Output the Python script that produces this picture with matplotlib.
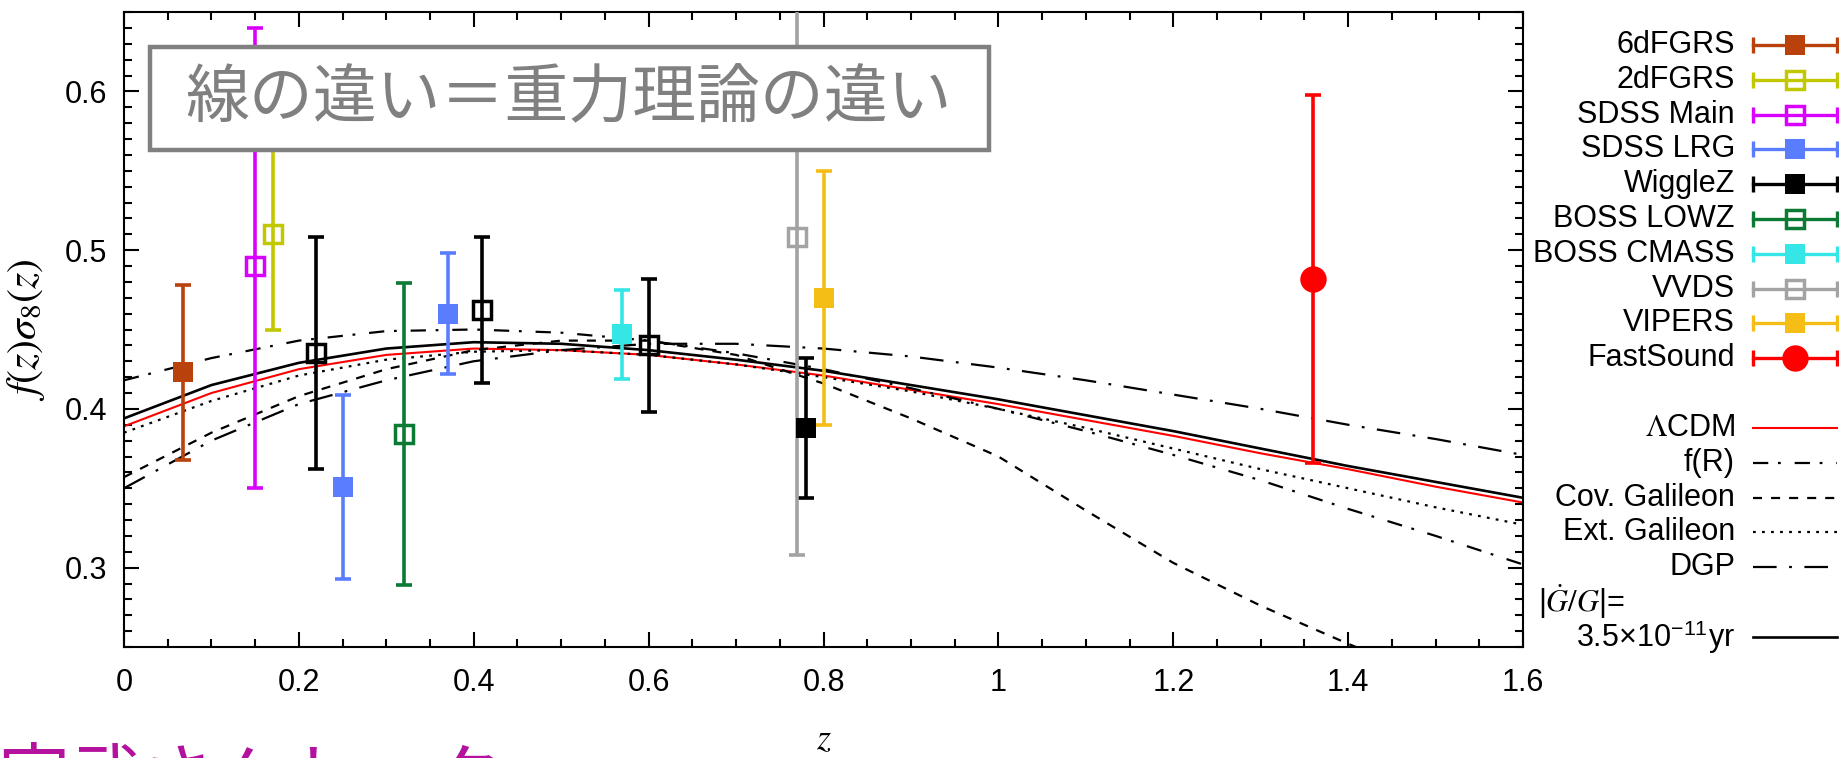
import numpy as np
import matplotlib
matplotlib.use('Agg')
import matplotlib.pyplot as plt
from matplotlib.patches import Rectangle
from matplotlib.ticker import MultipleLocator, FuncFormatter

plt.rcParams['font.family'] = ['Liberation Sans', 'DejaVu Sans']
plt.rcParams['mathtext.fontset'] = 'stix'
plt.rcParams['lines.scale_dashes'] = False

# ---- observations: z, f*sigma8, lower err, upper err ----
z_6df, fs8_6df, lo_6df, hi_6df = [0.067], [0.423], [0.055], [0.055]
z_2df, fs8_2df, lo_2df, hi_2df = [0.17], [0.510], [0.060], [0.060]
z_main, fs8_main, lo_main, hi_main = [0.15], [0.490], [0.140], [0.150]
z_lrg, fs8_lrg, lo_lrg, hi_lrg = [0.25, 0.37], [0.351, 0.460], [0.058, 0.038], [0.058, 0.038]
z_wz = [0.22, 0.41, 0.60, 0.78]
fs8_wz = [0.435, 0.462, 0.440, 0.388]
lo_wz = [0.073, 0.046, 0.042, 0.044]
hi_wz = [0.073, 0.046, 0.042, 0.044]
z_lowz, fs8_lowz, lo_lowz, hi_lowz = [0.32], [0.384], [0.095], [0.095]
z_cmass, fs8_cmass, lo_cmass, hi_cmass = [0.57], [0.447], [0.028], [0.028]
z_vvds, fs8_vvds, lo_vvds, hi_vvds = [0.77], [0.508], [0.200], [0.200]
z_vip, fs8_vip, lo_vip, hi_vip = [0.80], [0.470], [0.080], [0.080]
z_fs, fs8_fs, lo_fs, hi_fs = [1.36], [0.482], [0.116], [0.116]

# ---- theory curves ----
z_th = [0.0, 0.1, 0.2, 0.3, 0.4, 0.5, 0.6, 0.7, 0.8, 0.9, 1.0, 1.1, 1.2, 1.3, 1.4, 1.5, 1.6]
lcdm = [0.389, 0.410, 0.425, 0.434, 0.438, 0.437, 0.434, 0.428, 0.421, 0.412, 0.403,
        0.393, 0.383, 0.372, 0.362, 0.351, 0.341]
gdot = [0.394, 0.415, 0.429, 0.438, 0.442, 0.441, 0.437, 0.431, 0.424, 0.415, 0.406,
        0.396, 0.386, 0.375, 0.364, 0.354, 0.344]
fR = [0.418, 0.432, 0.443, 0.449, 0.450, 0.448, 0.443, 0.435, 0.425, 0.413, 0.400,
      0.386, 0.371, 0.355, 0.337, 0.320, 0.302]
cov_gal = [0.357, 0.385, 0.408, 0.425, 0.437, 0.443, 0.443, 0.434, 0.416, 0.394, 0.370,
           0.336, 0.303, 0.276, 0.252, 0.230, 0.210]
ext_gal = [0.385, 0.405, 0.421, 0.431, 0.436, 0.437, 0.434, 0.428, 0.420, 0.411, 0.400,
           0.388, 0.375, 0.362, 0.350, 0.338, 0.327]
dgp = [0.350, 0.380, 0.403, 0.418, 0.430, 0.437, 0.441, 0.441, 0.438, 0.433, 0.426,
       0.418, 0.409, 0.400, 0.390, 0.381, 0.371]

W, H = 1839, 758
fig = plt.figure(figsize=(W / 100, H / 100), dpi=100)
ax = fig.add_axes([124 / W, 1 - 647 / H, 1399 / W, 635 / H])

surveys = [
    ('6dFGRS', z_6df, fs8_6df, lo_6df, hi_6df, '#B9410C', 's', [False]),
    ('2dFGRS', z_2df, fs8_2df, lo_2df, hi_2df, '#C2C800', 's', [True]),
    ('SDSS Main', z_main, fs8_main, lo_main, hi_main, '#DA00FF', 's', [True]),
    ('SDSS LRG', z_lrg, fs8_lrg, lo_lrg, hi_lrg, '#5A7DFF', 's', [False, False]),
    ('WiggleZ', z_wz, fs8_wz, lo_wz, hi_wz, 'black', 's', [True, True, True, False]),
    ('BOSS LOWZ', z_lowz, fs8_lowz, lo_lowz, hi_lowz, '#0B7A35', 's', [True]),
    ('BOSS CMASS', z_cmass, fs8_cmass, lo_cmass, hi_cmass, '#35E6E6', 's', [False]),
    ('VVDS', z_vvds, fs8_vvds, lo_vvds, hi_vvds, '#A3A3A3', 's', [True]),
    ('VIPERS', z_vip, fs8_vip, lo_vip, hi_vip, '#F5BE16', 's', [False]),
    ('FastSound', z_fs, fs8_fs, lo_fs, hi_fs, '#FF0000', 'o', [False]),
]


def marker_kw(color, marker, is_open):
    if marker == 'o':
        return dict(marker='o', ms=19, mfc=color, mec=color, mew=0)
    if is_open:
        return dict(marker='s', ms=12.5, mfc='none', mec=color, mew=2.5)
    return dict(marker='s', ms=14.5, mfc=color, mec=color, mew=0)


theory = [
    (r'$\Lambda$CDM', lcdm, 'red', 1.5, '-'),
    ('f(R)', fR, 'black', 1.6, (0, (11, 7, 2, 10))),
    ('Cov. Galileon', cov_gal, 'black', 1.6, (0, (6.5, 6.5))),
    ('Ext. Galileon', ext_gal, 'black', 1.6, (0, (2, 4.5))),
    ('DGP', dgp, 'black', 1.6, (0, (17, 9, 2, 9))),
]

for label, y, color, lw, ls in theory:
    ax.plot(z_th, y, color=color, lw=lw, linestyle=ls, zorder=2)
ax.plot(z_th, gdot, color='black', lw=1.9, zorder=2)

for name, z, v, lo, hi, color, marker, opens in surveys:
    for i in range(len(z)):
        ax.errorbar([z[i]], [v[i]], yerr=[[lo[i]], [hi[i]]], fmt='none', ecolor=color,
                    elinewidth=2.6, capsize=6, capthick=2.6, zorder=3)
        ax.plot([z[i]], [v[i]], linestyle='none', zorder=4,
                **marker_kw(color, marker, opens[i]))

ax.set_xlim(0, 1.6)
ax.set_ylim(0.25, 0.65)
ax.xaxis.set_major_locator(MultipleLocator(0.2))
ax.xaxis.set_minor_locator(MultipleLocator(0.05))
ax.yaxis.set_major_locator(MultipleLocator(0.1))
ax.yaxis.set_minor_locator(MultipleLocator(0.01))
ax.xaxis.set_major_formatter(FuncFormatter(lambda v, p: '%g' % round(v, 2)))
ax.yaxis.set_major_formatter(FuncFormatter(lambda v, p: '%g' % round(v, 2)))
ax.tick_params(which='both', direction='in', top=True, right=True, width=1.5, labelsize=22)
ax.tick_params(which='major', length=11)
ax.tick_params(which='minor', length=5.5)
ax.tick_params(axis='y', pad=12)
ax.tick_params(axis='x', pad=15)
for s in ax.spines.values():
    s.set_linewidth(1.5)

ax.set_ylabel(r'$f(z)\sigma_8(z)$', fontsize=30)
ax.yaxis.set_label_coords(-0.055, 0.5)
ax.set_xlabel(r'$z$', fontsize=26)
ax.xaxis.set_label_coords(0.5, -0.119)

# annotation box
fig.add_artist(Rectangle((150 / W, 1 - 150 / H), 839 / W, 103 / H, transform=fig.transFigure,
                         facecolor='white', edgecolor='#808080', lw=3.2, zorder=10))
fig.text(569 / W, 1 - 99 / H, '線の違い＝重力理論の違い', ha='center', va='center',
         fontsize=46, color='#808080', family=['Noto Sans CJK JP', 'DejaVu Sans'], zorder=11)

# magenta caption, cut by the bottom edge as in the slide
fig.text(-3 / W, 1 - 803 / H, '宮武さんトーク', ha='left', va='baseline',
         fontsize=52, color='#B4119E', family=['Noto Sans CJK JP', 'DejaVu Sans'])

# legend drawn by hand on a pixel-scaled overlay
lax = fig.add_axes([0, 0, 1, 1])
lax.set_xlim(0, W)
lax.set_ylim(H, 0)
lax.axis('off')

tx, x0, x1, xm = 1735, 1753, 1837, 1795
for i, (name, z, v, lo, hi, color, marker, opens) in enumerate(surveys):
    yy = 45 + i * 34.8
    lax.plot([x0, x1], [yy, yy], color=color, lw=2.4)
    lax.plot([x0, x1], [yy, yy], linestyle='none', marker='|', ms=11, mew=2.4, color=color)
    lax.plot([xm], [yy], linestyle='none',
             **marker_kw(color, marker, opens[0] if name != 'WiggleZ' else False))
    lax.text(tx, yy, name, ha='right', va='center', fontsize=22)

for i, (label, y, color, lw, ls) in enumerate(theory):
    yy = 428 + i * 34.8
    lax.plot([x0, x1], [yy, yy], color=color, lw=lw, linestyle=ls)
    lax.text(tx, yy, label, ha='right', va='center', fontsize=22)

lax.text(1538, 602, r'|$\dot{G}/G$|=', ha='left', va='center', fontsize=22)
lax.text(tx, 637, r'3.5×10$^{\mathregular{-11}}$yr', ha='right', va='center', fontsize=22)
lax.plot([x0, x1], [637, 637], color='black', lw=1.9)

fig.savefig('out.png', dpi=100)
